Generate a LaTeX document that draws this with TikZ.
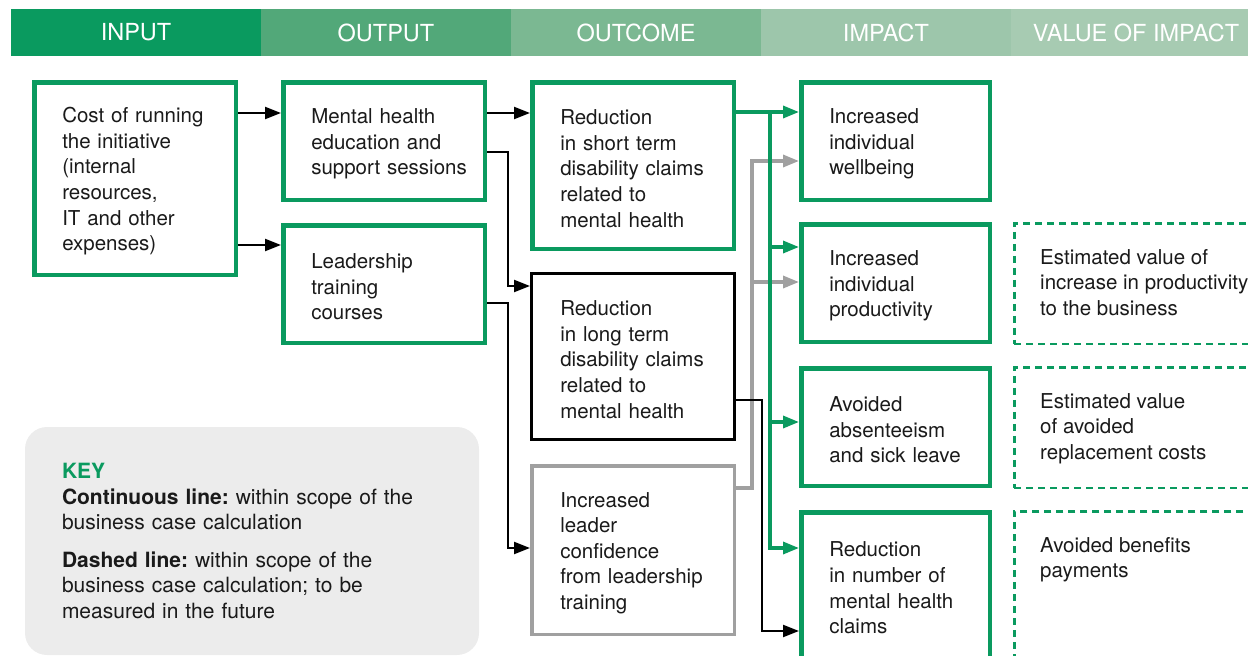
\documentclass[tikz,border=0pt]{standalone}
\usepackage{fontspec}
\setmainfont{TeX Gyre Heros}
\usetikzlibrary{positioning,arrows.meta}

\definecolor{kgreen}{HTML}{0A9A5F}
\definecolor{hdA}{HTML}{0A9A5F}
\definecolor{hdB}{HTML}{52A879}
\definecolor{hdC}{HTML}{7BB892}
\definecolor{hdD}{HTML}{9DC6AB}
\definecolor{hdE}{HTML}{A7CBB2}
\definecolor{lgray}{HTML}{A0A0A0}
\definecolor{keyfill}{HTML}{ECECEC}
\definecolor{inkc}{HTML}{1A1A1A}

\newcommand{\bxfont}{\fontsize{20.5}{25.6}\selectfont\frenchspacing}
\newcommand{\hdfont}{\fontsize{23.5}{26}\selectfont}
\newcommand{\kyfont}{\fontsize{21}{25.5}\selectfont\frenchspacing}

\tikzset{
	hdr/.style={fill=#1, text=white, font=\hdfont, minimum width=250pt, minimum height=47pt, inner sep=0pt, outer sep=0pt},
	gbox/.style={draw=kgreen, line width=4.5pt, text=inkc, font=\bxfont, align=left, inner xsep=28pt, minimum width=201.5pt, text width=145.5pt, minimum height=117.5pt, execute at begin node={\rule{0pt}{21pt}}},
	bbox/.style={gbox, draw=black, line width=2.7pt, minimum width=203.3pt},
	ybox/.style={gbox, draw=lgray, line width=3.5pt, minimum width=202.5pt},
	impact/.style={minimum width=188.5pt, text width=132.5pt},
	valbox/.style={draw=kgreen, line width=2.5pt, dash pattern=on 7pt off 5pt, minimum width=241.5pt, minimum height=120.5pt},
	valtext/.style={text=inkc, font=\bxfont, align=left, inner sep=0pt, anchor=north west},
	blkline/.style={draw=black, line width=2.3pt, -{Triangle[length=16pt,width=12pt]}},
	grnline/.style={draw=kgreen, line width=3.3pt, -{Triangle[length=16pt,width=12pt]}},
	gryline/.style={draw=lgray, line width=3.3pt, -{Triangle[length=16pt,width=12pt]}},
}

\begin{document}
\begin{tikzpicture}[x=1pt, y=-1pt]
	\useasboundingbox (0,0) rectangle (1248,656);

	\node[hdr=hdA, anchor=north west] (hin) at (11,9) {INPUT};
	\node[hdr=hdB, right=0pt of hin] (hout) {OUTPUT};
	\node[hdr=hdC, right=0pt of hout] (hcome) {OUTCOME};
	\node[hdr=hdD, right=0pt of hcome] (himp) {IMPACT};
	\node[hdr=hdE, right=0pt of himp] (hval) {VALUE OF IMPACT};

	\node[gbox, minimum height=192.5pt, anchor=north west] (inp) at (32,80) {Cost of running\\the initiative\\(internal\\resources,\\IT and other\\expenses)};
	\node[gbox, right=43pt of inp.north east, anchor=north west] (edu) {Mental health\\education and\\\mbox{support sessions}};
	\node[gbox, below=21pt of edu.south west, anchor=north west] (lead) {Leadership\\training\\courses};

	\node[gbox, minimum height=166.5pt, right=43pt of edu.north east, anchor=north west] (stdc) {Reduction\\in short term\\disability claims\\related to\\mental health};
	\node[bbox, minimum height=166.3pt, below=21pt of stdc.south west, anchor=north west] (ltdc) {Reduction\\in long term\\disability claims\\related to\\mental health};
	\node[ybox, minimum height=168.5pt, below=23pt of ltdc.south west, anchor=north west] (conf) {Increased\\leader\\confidence\\from leadership\\training};

	\node[gbox, impact, right=63pt of stdc.north east, anchor=north west] (wellb) {Increased\\individual\\wellbeing};
	\node[gbox, impact, below=20pt of wellb.south west, anchor=north west] (prod) {Increased\\individual\\productivity};
	\node[gbox, impact, below=22pt of prod.south west, anchor=north west] (absent) {Avoided\\absenteeism\\and sick leave};
	\node[gbox, impact, minimum height=145.5pt, below=22pt of absent.south west, anchor=north west] (claims) {Reduction\\in number of\\mental health\\claims};

	\node[valbox, right=21pt of prod.north east, anchor=north west] (vprod) {};
	\node[valbox, right=21pt of absent.north east, anchor=north west] (vrepl) {};
	\node[valbox, minimum height=190pt, right=21pt of claims.north east, anchor=north west] (vben) {};
	\node[valtext] (vprodt) at ([xshift=27pt,yshift=-27pt]vprod.north west) {Estimated value of\\increase in productivity\\to the business};
	\node[valtext] (vreplt) at ([xshift=27pt,yshift=-27pt]vrepl.north west) {Estimated value\\of avoided\\replacement costs};
	\node[valtext] (vbent) at ([xshift=27pt,yshift=-27pt]vben.north west) {Avoided benefits\\payments};

	\node[fill=keyfill, rounded corners=22pt, minimum width=454pt, minimum height=228pt, inner xsep=37pt, text width=380pt, align=left, font=\kyfont, text=inkc] (key) at (252,541) {{\color{kgreen}\bfseries KEY}\\{\bfseries Continuous line:} within scope of the\\business case calculation\\[12pt]{\bfseries Dashed line:} within scope of the\\business case calculation; to be\\measured in the future};

	\draw[blkline] (inp.east |- 0,113) -- (edu.west |- 0,113);
	\draw[blkline] (inp.east |- 0,245) -- (lead.west |- 0,245);
	\draw[blkline] (edu.east |- 0,113) -- (stdc.west |- 0,113);
	\draw[blkline] (edu.east |- 0,152) -| (508,286) -- (ltdc.west |- 0,286);
	\draw[blkline] (lead.east |- 0,303) -| (508,548) -- (conf.west |- 0,548);

	\draw[gryline] (conf.east |- 0,488) -| (752,161) -- (wellb.west |- 0,161);
	\draw[gryline] (752,282) -- (prod.west |- 0,282);
	\draw[blkline] (ltdc.east |- 0,400) -| (762,631) -- (claims.west |- 0,631);
	\draw[grnline] (stdc.east |- 0,112) -- (wellb.west |- 0,112);
	\draw[grnline] (770,112) |- (claims.west |- 0,548);
	\draw[grnline] (770,247) -- (prod.west |- 0,247);
	\draw[grnline] (770,422) -- (absent.west |- 0,422);
\end{tikzpicture}
\end{document}
